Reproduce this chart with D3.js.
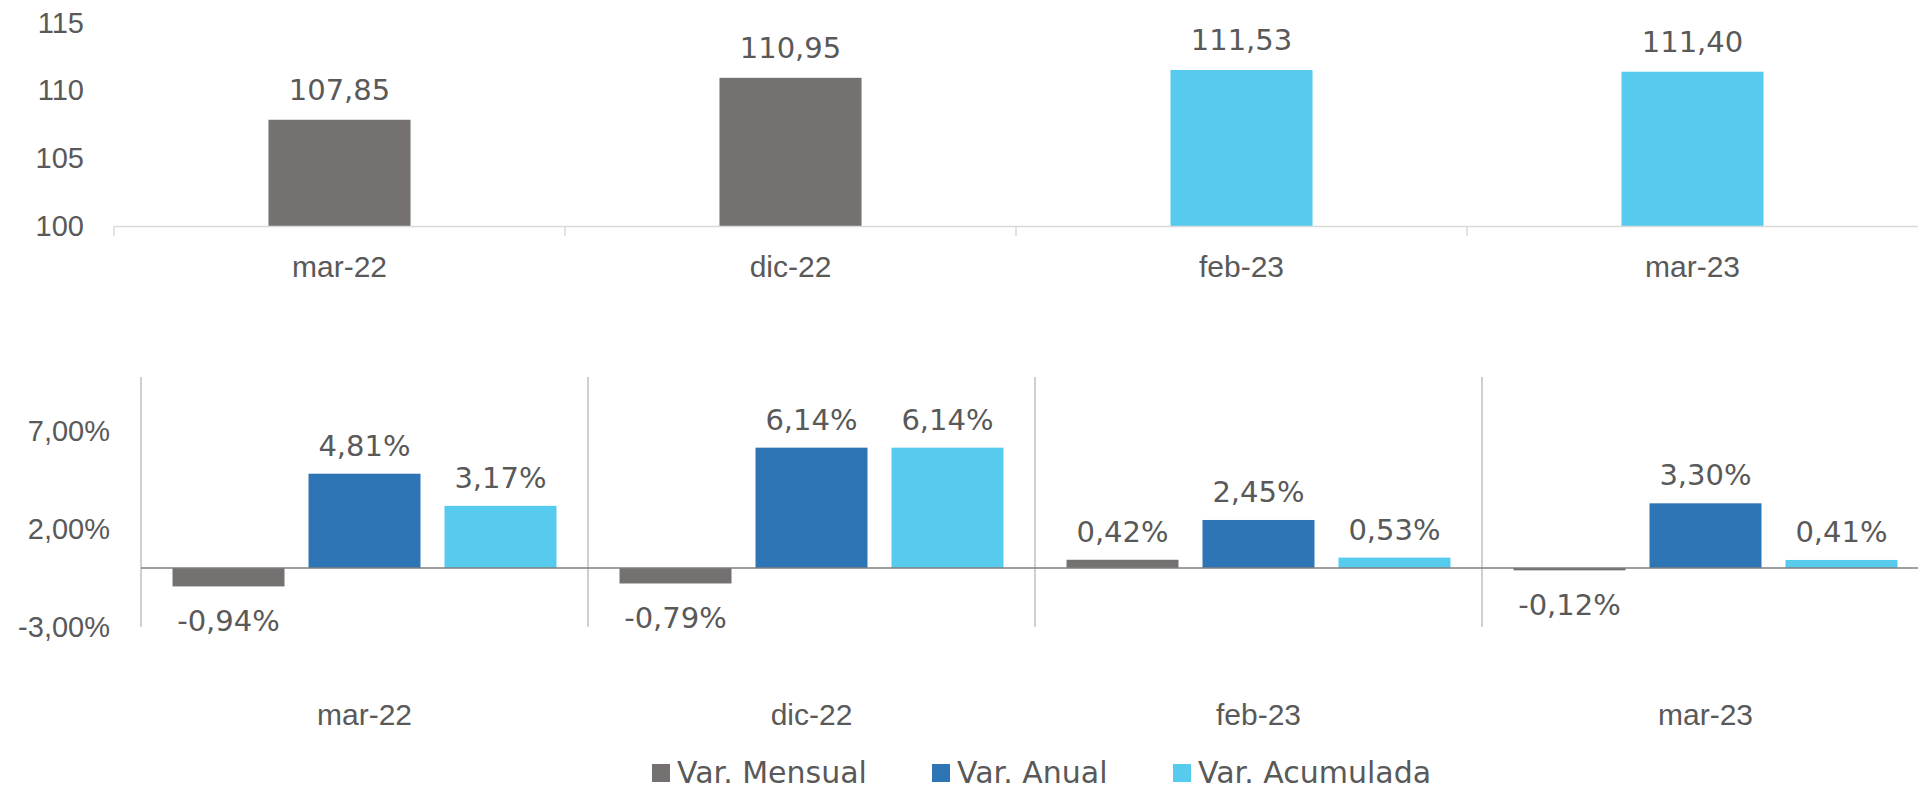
<!doctype html>
<meta charset="utf-8">
<title>Indice y variaciones</title>
<script src="https://cdn.jsdelivr.net/npm/d3@7"></script>
<style>
body { margin: 0; background: #fff; }
svg { display: block; font-family: "DejaVu Sans", sans-serif; }
text { fill: #595959; }
</style>
<svg id="chart" width="1918" height="790"></svg>
<script>
// data
var months = ["mar-22", "dic-22", "feb-23", "mar-23"];
var indexValues = [107.85, 110.95, 111.53, 111.40];
var indexTicks = [100, 105, 110, 115];

var seriesNames = ["Var. Mensual", "Var. Anual", "Var. Acumulada"];
var varMensual = [-0.94, -0.79, 0.42, -0.12];
var varAnual = [4.81, 6.14, 2.45, 3.30];
var varAcumulada = [3.17, 6.14, 0.53, 0.41];
var pctTicks = [-3, 2, 7];

var gray = "#767171", blue = "#2e75b6", cyan = "#56cbee";
var seriesColors = [gray, blue, cyan];
var numSize = 29, catSize = 30;

var svg = d3.select("#chart");
var fmt = function(v, d) { return v.toFixed(d).replace(".", ","); };

// ---- top chart: index level ----
var xTop = d3.scaleBand().domain(months).range([114, 1918])
    .paddingInner(0.685).paddingOuter(0.3425);
var yTop = d3.scaleLinear().domain([100, 115]).range([226, 23]);

var topG = svg.append("g");

topG.append("g")
    .attr("transform", "translate(84,0)")
    .call(d3.axisLeft(yTop).tickValues(indexTicks).tickSize(0).tickPadding(0).tickFormat(d3.format("d")))
    .call(function(g) { g.select(".domain").remove(); })
    .selectAll("text").attr("font-size", numSize).attr("fill", "#595959");

topG.selectAll("rect.bar").data(indexValues).enter().append("rect")
    .attr("class", "bar")
    .attr("x", function(d, i) { return xTop(months[i]); })
    .attr("width", xTop.bandwidth())
    .attr("y", function(d) { return yTop(d); })
    .attr("height", function(d) { return yTop(100) - yTop(d); })
    .attr("fill", function(d, i) { return i < 2 ? gray : cyan; });

topG.selectAll("text.val").data(indexValues).enter().append("text")
    .attr("class", "val")
    .attr("x", function(d, i) { return xTop(months[i]) + xTop.bandwidth() / 2; })
    .attr("y", function(d) { return yTop(d) - 20; })
    .attr("text-anchor", "middle")
    .attr("font-size", numSize)
    .text(function(d) { return fmt(d, 2); });

var xAxisTop = topG.append("g")
    .attr("transform", "translate(0," + yTop(100) + ")")
    .call(d3.axisBottom(xTop).tickSize(0).tickPadding(0));
xAxisTop.select(".domain").attr("stroke", "#d9d9d9").attr("stroke-width", 1.5);
xAxisTop.selectAll("text").attr("font-size", catSize).attr("fill", "#595959")
    .attr("dy", "0").attr("y", 51);

var stepTop = xTop.step();
var topBounds = months.map(function(m) { return xTop(m) - (stepTop - xTop.bandwidth()) / 2; });
topG.selectAll("line.sep").data(topBounds).enter().append("line")
    .attr("x1", function(d) { return d; }).attr("x2", function(d) { return d; })
    .attr("y1", yTop(100)).attr("y2", yTop(100) + 10)
    .attr("stroke", "#d9d9d9").attr("stroke-width", 1.5);

// ---- bottom chart: variations ----
var x0 = d3.scaleBand().domain(months).range([141, 1929])
    .paddingInner(0.141).paddingOuter(0.0705);
var x1 = d3.scaleBand().domain(seriesNames).range([0, x0.bandwidth()]).paddingInner(0.1765);
var yB = d3.scaleLinear().domain([-3, 9.75]).range([626.8, 376.9]);

var bottomG = svg.append("g");

bottomG.append("g")
    .attr("transform", "translate(110,0)")
    .call(d3.axisLeft(yB).tickValues(pctTicks).tickSize(0).tickPadding(0)
        .tickFormat(function(d) { return fmt(d, 2) + "%"; }))
    .call(function(g) { g.select(".domain").remove(); })
    .selectAll("text").attr("font-size", numSize).attr("fill", "#595959");

var step = x0.step();
var bounds = months.map(function(m) { return x0(m) - (step - x0.bandwidth()) / 2; });
bottomG.selectAll("line.sep").data(bounds).enter().append("line")
    .attr("x1", function(d) { return d; }).attr("x2", function(d) { return d; })
    .attr("y1", yB(9.75)).attr("y2", yB(-3))
    .attr("stroke", "#bfbfbf").attr("stroke-width", 1.5);

var rows = months.map(function(m, i) {
  return { month: m, values: [varMensual[i], varAnual[i], varAcumulada[i]] };
});

var groups = bottomG.selectAll("g.grp").data(rows).enter().append("g")
    .attr("class", "grp")
    .attr("transform", function(d) { return "translate(" + x0(d.month) + ",0)"; });

var cells = groups.selectAll("g.cell")
    .data(function(d) { return d.values.map(function(v, j) { return { name: seriesNames[j], v: v, j: j }; }); })
    .enter().append("g").attr("class", "cell");

cells.append("rect")
    .attr("x", function(d) { return x1(d.name); })
    .attr("width", x1.bandwidth())
    .attr("y", function(d) { return yB(Math.max(0, d.v)); })
    .attr("height", function(d) { return Math.abs(yB(d.v) - yB(0)); })
    .attr("fill", function(d) { return seriesColors[d.j]; });

cells.append("text")
    .attr("x", function(d) { return x1(d.name) + x1.bandwidth() / 2; })
    .attr("y", function(d) { return d.v >= 0 ? yB(d.v) - 18 : yB(d.v) + 45; })
    .attr("text-anchor", "middle")
    .attr("font-size", numSize)
    .text(function(d) { return fmt(d.v, 2) + "%"; });

bottomG.append("line")
    .attr("x1", 141).attr("x2", 1918)
    .attr("y1", yB(0)).attr("y2", yB(0))
    .attr("stroke", "#7f7f7f").attr("stroke-width", 1.5);

var xAxisB = bottomG.append("g")
    .attr("transform", "translate(0,725)")
    .call(d3.axisBottom(x0).tickSize(0).tickPadding(0));
xAxisB.select(".domain").remove();
xAxisB.selectAll("text").attr("font-size", catSize).attr("fill", "#595959").attr("dy", "0").attr("y", 0);

// ---- legend ----
var legendX = [652, 932, 1173];
var legend = svg.append("g").selectAll("g").data(seriesNames).enter().append("g")
    .attr("transform", function(d, i) { return "translate(" + legendX[i] + ",764)"; });
legend.append("rect").attr("width", 18).attr("height", 18)
    .attr("fill", function(d, i) { return seriesColors[i]; });
legend.append("text").attr("x", 25).attr("y", 19)
    .attr("font-size", catSize).text(function(d) { return d; });
</script>
